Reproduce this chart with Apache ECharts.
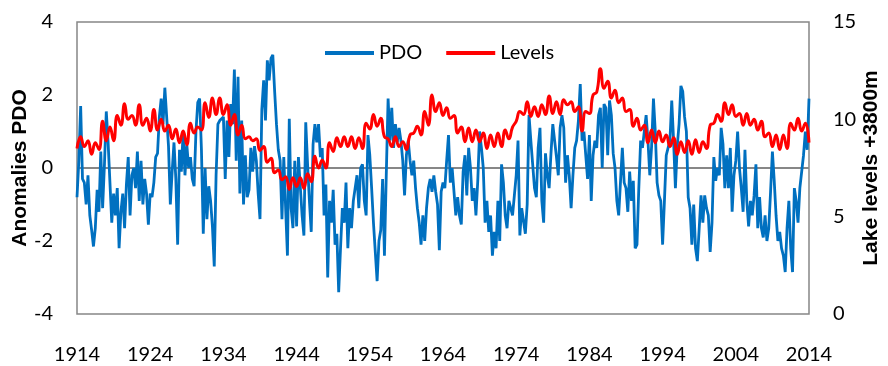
<!DOCTYPE html>
<html>
<head>
<meta charset="utf-8">
<script src="https://cdn.jsdelivr.net/npm/echarts@6/dist/echarts.min.js"></script>
<style>
  html, body { margin: 0; padding: 0; background: #fff; }
  #chart { width: 888px; height: 366px; }
</style>
</head>
<body>
<div id="chart"></div>
<script>
// PDO anomalies, 4 readings per year starting 1914.0
const pdoStart = 1914;
const pdoStep = 0.25;
const pdo = [
  -0.8, 0.2, 1.7, -0.3,   -0.4, -1.0, -0.2, -1.3,   -1.7, -2.15, -1.65, -0.6,
  -1.2, 0.45, -1.1, 0.1,   1.55, 0.7, -0.4, -1.5,   -0.7, -1.3, -0.55, -2.2,
  -1.2, -0.7, -1.65, -0.45,   0.3, -1.3, -0.2, 0.0,   -0.55, 0.45, -0.9, 0.2,
  -1.0, -0.3, -0.7, -1.55,   -0.7, -0.8, -0.4, 0.3,   0.4, 1.4, 1.9, 1.2,
  2.2, 1.4, 0.6, -1.0,   -0.1, 0.7, -0.3, -2.1,   0.5, -0.1, 1.0, -0.2,
  0.65, 0.0, 0.3, -0.3,   -0.5, 1.0, 1.8, 1.9,   0.5, -1.8, 0.0, -1.4,
  -0.5, -0.9, -1.6, -2.7,   -0.2, 1.2, 1.3, 1.35,   1.4, -0.3, 1.3, 0.3,
  1.75, 1.2, 2.7, 0.2,   2.5, -0.7, 1.3, -1.0,   0.35, -0.8, -0.6, 0.55,
  -0.1, 0.6, 0.2, -0.7,   -1.4, 1.6, 2.4, 1.3,   2.95, 2.4, 3.0, 3.1,
  2.1, 1.2, 0.5, 0.2,   -1.4, 0.3, -1.1, -2.4,   1.35, -1.1, -1.65, 0.2,
  -1.6, 0.3, -0.5, -1.3,   -1.85, 1.25, 0.1, -0.9,   -1.75, 0.65, 1.2, 0.7,
  1.2, 0.3, 0.55, -1.3,   -0.45, -3.0, -0.9, -1.5,   -0.6, -2.1, -1.8, -3.4,
  -2.2, -1.1, -1.5, -0.4,   -2.2, -1.1, -1.65, -0.9,   -0.9, -0.2, -1.1, 0.0,
  0.1, -0.9, -1.3, 0.9,   0.35, -0.55, -1.5, -2.3,   -3.1, -2.0, -1.7, -0.3,
  -2.4, -0.2, 1.9, 0.75,   1.65, 0.55, 1.2, 0.7,   1.1, 0.75, 0.2, -0.75,
  0.35, 0.75, 0.2, -0.2,   0.2, -0.55, -1.1, -1.5,   -2.1, -1.3, -2.0, -1.1,
  -0.55, -0.3, -0.65, -0.2,   -0.65, -1.0, -2.25, -0.65,   -0.4, -0.55, 0.2, 0.9,
  -0.4, 0.0, -0.65, -1.3,   -0.8, -1.3, -1.55, -0.1,   0.35, -0.75, 0.55, 0.0,
  -0.9, -0.55, -1.3, -0.35,   1.0, 0.55, 0.0, -1.5,   -0.9, -1.75, -1.3, -2.4,
  -1.75, -2.2, -0.9, -2.0,   0.1, -0.4, -1.3, -1.65,   -0.9, -1.1, -1.3, -0.75,
  -0.2, 0.75, -1.85, -1.1,   -1.1, -1.8, -1.0, 1.45,   0.75, 0.1, -0.55, -0.8,
  0.55, 1.1, -0.9, -1.5,   0.4, -0.2, -0.55, 0.4,   1.2, 0.75, 0.3, -0.2,
  1.1, 1.45, 1.1, -0.4,   0.35, -0.2, -1.1, -0.2,   0.55, 0.75, 1.3, 2.3,
  0.75, 1.0, 0.35, -0.3,   0.9, -0.9, 0.35, 0.75,   0.55, 1.45, 1.65, 0.0,
  1.75, 1.65, 0.35, 1.85,   1.45, 0.4, 0.0, -0.9,   -1.3, -1.3, 0.55, -0.4,
  -0.55, -1.2, -0.1, -0.9,   -0.35, -2.2, -2.1, -0.55,   0.75, 0.55, 1.0, 1.45,
  0.75, -0.2, 0.6, 1.9,   1.0, -0.4, -0.75, -0.9,   -2.1, -0.9, 0.35, 0.55,
  0.75, 1.85, 0.75, -0.55,   0.6, 1.2, 2.25, 2.1,   1.4, 1.0, -0.8, -1.1,
  -2.1, -1.0, -2.2, -2.55,   -1.65, -0.75, -1.5, -0.75,   -1.1, -1.3, -2.3, -1.5,
  0.3, -0.35, 0.0, -0.2,   1.1, 0.65, -0.55, 0.35,   -0.55, 0.55, -1.2, -0.2,
  0.2, 1.0, 0.0, -0.55,   -1.2, 0.5, -0.9, -1.6,   -0.9, -1.3, -0.75, 0.1,
  -1.65, -0.8, -1.65, -1.9,   -1.3, -2.0, -1.65, -0.65,   0.45, -0.35, -1.3, -2.0,
  -1.75, -2.2, -2.4, -2.85,   -1.65, -0.9, -2.2, -2.85,   -0.55, -0.9, -1.5, -0.55,
  -0.6, 0.35, 1.0, 0.5,
  1.9
];

// lake levels (m above 3800), 2 readings per year starting 1914.0
const levelStart = 1914;
const levelStep = 0.5;
const levels = [
  8.5, 9.1,   8.6, 8.9,   8.2, 8.8,   8.45, 9.9,   8.9, 9.6,
  8.9, 10.2,  9.7, 10.8,  10.0, 10.2,  9.7, 10.75,  9.7, 10.05,
  9.4, 10.5,  9.45, 10.0,  9.4, 9.7,   9.0, 9.5,   8.8, 9.4,
  8.7, 9.8,   9.3, 9.6,   9.45, 10.85,  10.1, 11.1,  10.25, 11.1,
  10.25, 10.75,  9.7, 10.25,  9.2, 9.7,   9.0, 9.1,   8.9, 9.0,
  8.4, 8.6,   7.8, 8.0,   7.25, 7.4,   6.9, 7.05,   6.4, 7.0,
  6.55, 7.0,  6.45, 7.2,  6.8, 8.1,   7.5, 7.9,   7.5, 8.8,
  8.35, 9.05,  8.6, 9.1,  8.6, 9.1,   8.5, 9.05,  8.5, 9.8,
  9.5, 10.25,  9.65, 10.05,  9.1, 9.0,  8.6, 9.1,  8.6, 8.85,
  8.45, 9.2,  9.3, 9.65,  9.2, 10.4,  9.7, 11.25,  10.4, 10.85,
  10.2, 10.6,  10.05, 10.2,  9.3, 9.6,  8.85, 9.55,  8.85, 9.45,
  8.85, 9.3,  8.5, 9.2,   8.6, 9.3,   8.6, 9.45,  9.0, 9.6,
  9.9, 10.4,  10.25, 10.9,  10.15, 10.65,  10.15, 10.75,  10.25, 11.2,
  10.3, 10.9,  10.25, 11.0,  10.75, 10.9,  10.4, 10.65,  9.4, 10.4,
  10.3, 11.25,  11.4, 12.6,  11.6, 11.95,  11.1, 11.5,  10.85, 11.1,
  10.4, 10.5,  9.65, 10.05,  9.45, 9.7,  8.8, 9.45,  8.8, 9.4,
  8.85, 9.2,  8.6, 9.05,  8.2, 8.85,  8.3, 8.9,   8.2, 8.95,
  8.3, 8.85,  8.5, 9.7,   9.8, 10.25,  9.9, 10.85,  10.25, 10.75,
  10.15, 10.3,  9.7, 10.3,  9.7, 10.0,  9.45, 9.9,   9.1, 9.3,
  8.6, 9.2,   8.45, 9.2,  8.5, 9.8,   9.45, 10.05,  9.4, 9.8,
  8.8
];

const yearTicks = [1914, 1924, 1934, 1944, 1954, 1964, 1974, 1984, 1994, 2004, 2014];
const pdoTicks = [-4, -2, 0, 2, 4];
const levelTicks = [0, 5, 10, 15];

const pdoData = pdo.map((v, i) => [pdoStart + i * pdoStep, v]);
const levelData = levels.map((v, i) => [levelStart + i * levelStep, v]);

const tickFont = { fontFamily: 'Lato', fontSize: 20, color: '#000' };
const titleFont = { fontFamily: 'Liberation Sans', fontSize: 21, fontWeight: 'bold', color: '#000' };
const clear = 'rgba(0,0,0,0)';

const chart = echarts.init(document.getElementById('chart'));
chart.setOption({
  animation: false,
  backgroundColor: '#fff',
  grid: {
    left: 77, right: 79, top: 22, bottom: 52,
    containLabel: false, outerBoundsMode: 'none',
    show: true, borderColor: '#878787', borderWidth: 1.5
  },
  legend: {
    left: 320, top: 38,
    itemWidth: 49, itemHeight: 4, itemGap: 24,
    icon: 'rect',
    textStyle: { fontFamily: 'Lato', fontSize: 20, color: '#000' },
    data: ['PDO', 'Levels']
  },
  xAxis: {
    type: 'value',
    min: yearTicks[0], max: yearTicks[yearTicks.length - 1], interval: 10,
    axisLine: { show: false }, axisTick: { show: false }, splitLine: { show: false },
    axisLabel: Object.assign({ margin: 31, formatter: v => String(v) }, tickFont)
  },
  yAxis: [
    {
      type: 'value',
      min: pdoTicks[0], max: pdoTicks[pdoTicks.length - 1], interval: 2,
      name: 'Anomalies PDO', nameLocation: 'middle', nameGap: 46, nameMoveOverlap: false,
      nameTextStyle: titleFont,
      axisLine: { show: false }, axisTick: { show: false },
      axisLabel: Object.assign({ margin: 24 }, tickFont),
      splitLine: { show: true, lineStyle: { width: 2, color: [clear, clear, '#878787', clear, clear] } }
    },
    {
      type: 'value',
      min: levelTicks[0], max: levelTicks[levelTicks.length - 1], interval: 5,
      name: 'Lake levels +3800m', nameLocation: 'middle', nameGap: 52, nameRotate: 90, nameMoveOverlap: false,
      nameTextStyle: titleFont,
      axisLine: { show: false }, axisTick: { show: false },
      axisLabel: Object.assign({ margin: 24 }, tickFont),
      splitLine: { show: false }
    }
  ],
  series: [
    {
      name: 'PDO', type: 'line', yAxisIndex: 0,
      data: pdoData, symbol: 'none',
      lineStyle: { color: '#0070C0', width: 2.8 },
      itemStyle: { color: '#0070C0' },
      z: 2
    },
    {
      name: 'Levels', type: 'line', yAxisIndex: 1,
      data: levelData, symbol: 'none', smooth: 0.5,
      lineStyle: { color: '#FF0000', width: 3 },
      itemStyle: { color: '#FF0000' },
      z: 3
    }
  ]
});
</script>
</body>
</html>
